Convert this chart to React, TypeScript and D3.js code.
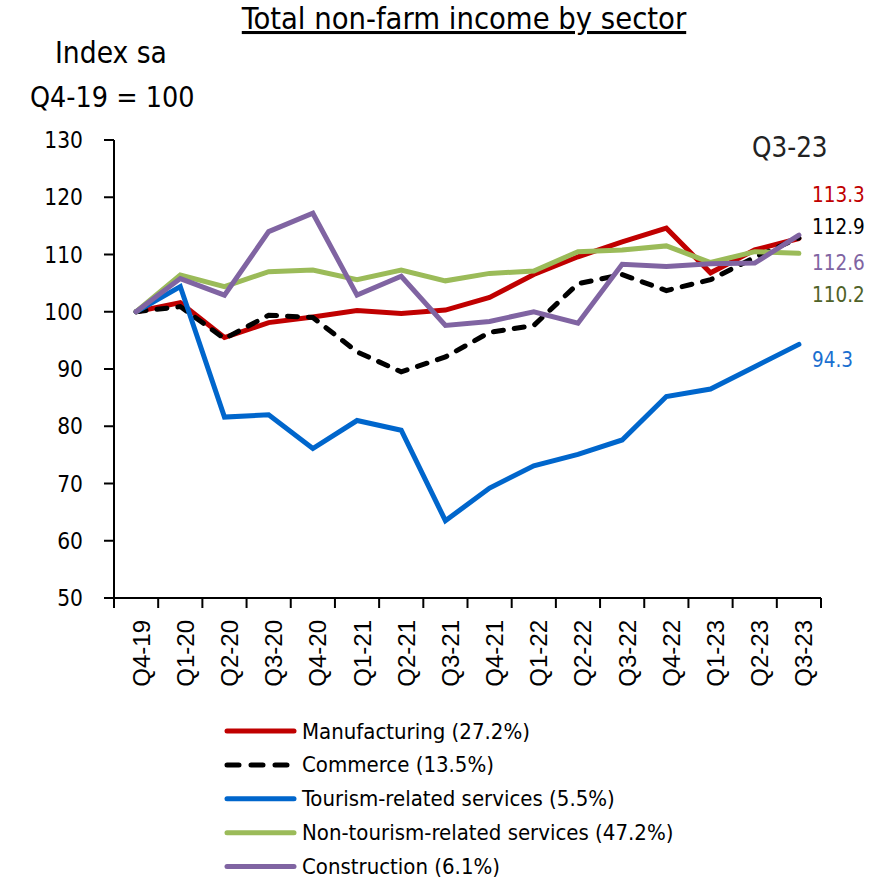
import React from "react";
import * as d3 from "d3";

const categories = ["Q4-19","Q1-20","Q2-20","Q3-20","Q4-20","Q1-21","Q2-21","Q3-21","Q4-21","Q1-22","Q2-22","Q3-22","Q4-22","Q1-23","Q2-23","Q3-23"];
const manufacturing = [100, 101.6, 95.5, 98.1, 99.1, 100.2, 99.7, 100.3, 102.5, 106.5, 109.6, 112.2, 114.6, 106.8, 110.8, 112.8];
const commerce = [100, 100.9, 95.3, 99.4, 99.0, 93.0, 89.5, 92.1, 96.4, 97.6, 104.9, 106.5, 103.7, 105.6, 109.5, 112.9];
const tourism = [100, 104.4, 81.6, 82.0, 76.1, 81.0, 79.3, 63.5, 69.2, 73.1, 75.1, 77.6, 85.2, 86.5, 90.4, 94.3];
const nonTourism = [100, 106.4, 104.4, 107.0, 107.3, 105.6, 107.3, 105.4, 106.7, 107.1, 110.5, 110.8, 111.5, 108.6, 110.5, 110.2];
const construction = [100, 105.8, 102.9, 114.0, 117.2, 102.9, 106.2, 97.6, 98.3, 100.0, 98.0, 108.3, 107.9, 108.4, 108.5, 113.4];
const yTicks = [50, 60, 70, 80, 90, 100, 110, 120, 130];
const seriesNames = ["Manufacturing (27.2%)", "Commerce (13.5%)", "Tourism-related services (5.5%)", "Non-tourism-related services (47.2%)", "Construction (6.1%)"];
const endLabels = ["113.3", "112.9", "112.6", "110.2", "94.3"];

const seriesValues = [manufacturing, commerce, tourism, nonTourism, construction];
const seriesColors = ["#C00000", "#000000", "#0066CC", "#9BBB59", "#8064A2"];
const labelColors = ["#C00000", "#000000", "#8064A2", "#4F6228", "#1A6FD0"];
const labelY = [195, 227, 263, 295, 360];

const FONT = "'DejaVu Sans Condensed', 'DejaVu Sans', sans-serif";

export default function App() {
  const left = 114, right = 821, top = 140, bottom = 598;
  const x = d3.scaleBand<string>().domain(categories).range([left, right]).padding(0);
  const y = d3.scaleLinear().domain([50, 130]).range([bottom, top]);
  const cx = (c: string) => (x(c) as number) + x.bandwidth() / 2;
  const line = d3.line<number>().x((_, i) => cx(categories[i])).y((v) => y(v));
  const boundaries = d3.range(categories.length + 1).map((k) => left + k * x.bandwidth());

  return (
    <div style={{ position: "absolute", left: 0, top: 0 }}>
      <svg width={871} height={879} style={{ display: "block", background: "#fff" }}>
        <text x={464} y={29} textAnchor="middle" fontFamily={FONT} fontSize={30.6} textDecoration="underline" fill="#000">
          Total non-farm income by sector
        </text>
        <text x={55} y={63} fontFamily={FONT} fontSize={29.6} fill="#000">Index sa</text>
        <text x={30} y={107} fontFamily={FONT} fontSize={28.4} fill="#000">Q4-19 = 100</text>

        {/* y axis */}
        <line x1={left} x2={left} y1={top} y2={bottom} stroke="#000" strokeWidth={2} />
        {yTicks.map((t) => (
          <g key={t}>
            <line x1={left - 10} x2={left} y1={y(t)} y2={y(t)} stroke="#000" strokeWidth={2} />
            <text x={83} y={y(t)} textAnchor="end" dominantBaseline="central" fontFamily={FONT} fontSize={22.5} fill="#000">{t}</text>
          </g>
        ))}
        {/* x axis */}
        <line x1={left - 10} x2={right} y1={bottom} y2={bottom} stroke="#000" strokeWidth={2} />
        {boundaries.map((b, i) => (
          <line key={i} x1={b} x2={b} y1={bottom} y2={bottom + 10} stroke="#000" strokeWidth={2} />
        ))}
        {categories.map((c) => (
          <text key={c} transform={`translate(${cx(c) + 5},620) rotate(-90)`} textAnchor="end" dominantBaseline="central"
            fontFamily="'Liberation Sans', Arial, sans-serif" fontSize={24} fill="#000">{c}</text>
        ))}

        {/* lines */}
        {seriesValues.map((vals, i) => (
          <path key={i} d={line(vals) || ""} fill="none" stroke={seriesColors[i]} strokeWidth={5}
            strokeLinecap="round" strokeLinejoin="miter"
            strokeDasharray={i === 1 ? "10 11" : undefined} />
        ))}

        <text x={752} y={157} fontFamily={FONT} fontSize={27.5} fill="#222">Q3-23</text>
        {endLabels.map((l, i) => (
          <text key={l} x={812} y={labelY[i]} dominantBaseline="central" fontFamily={FONT} fontSize={20.5} fill={labelColors[i]}>{l}</text>
        ))}

        {/* legend */}
        {seriesNames.map((n, i) => {
          const ly = 731 + i * 33.9;
          return (
            <g key={n}>
              <line x1={227} x2={294} y1={ly} y2={ly} stroke={seriesColors[i]} strokeWidth={5} strokeLinecap="round"
                strokeDasharray={i === 1 ? "12 12" : undefined} />
              <text x={302} y={ly} dominantBaseline="central" fontFamily={FONT} fontSize={22} fill="#000">{n}</text>
            </g>
          );
        })}
      </svg>
    </div>
  );
}
